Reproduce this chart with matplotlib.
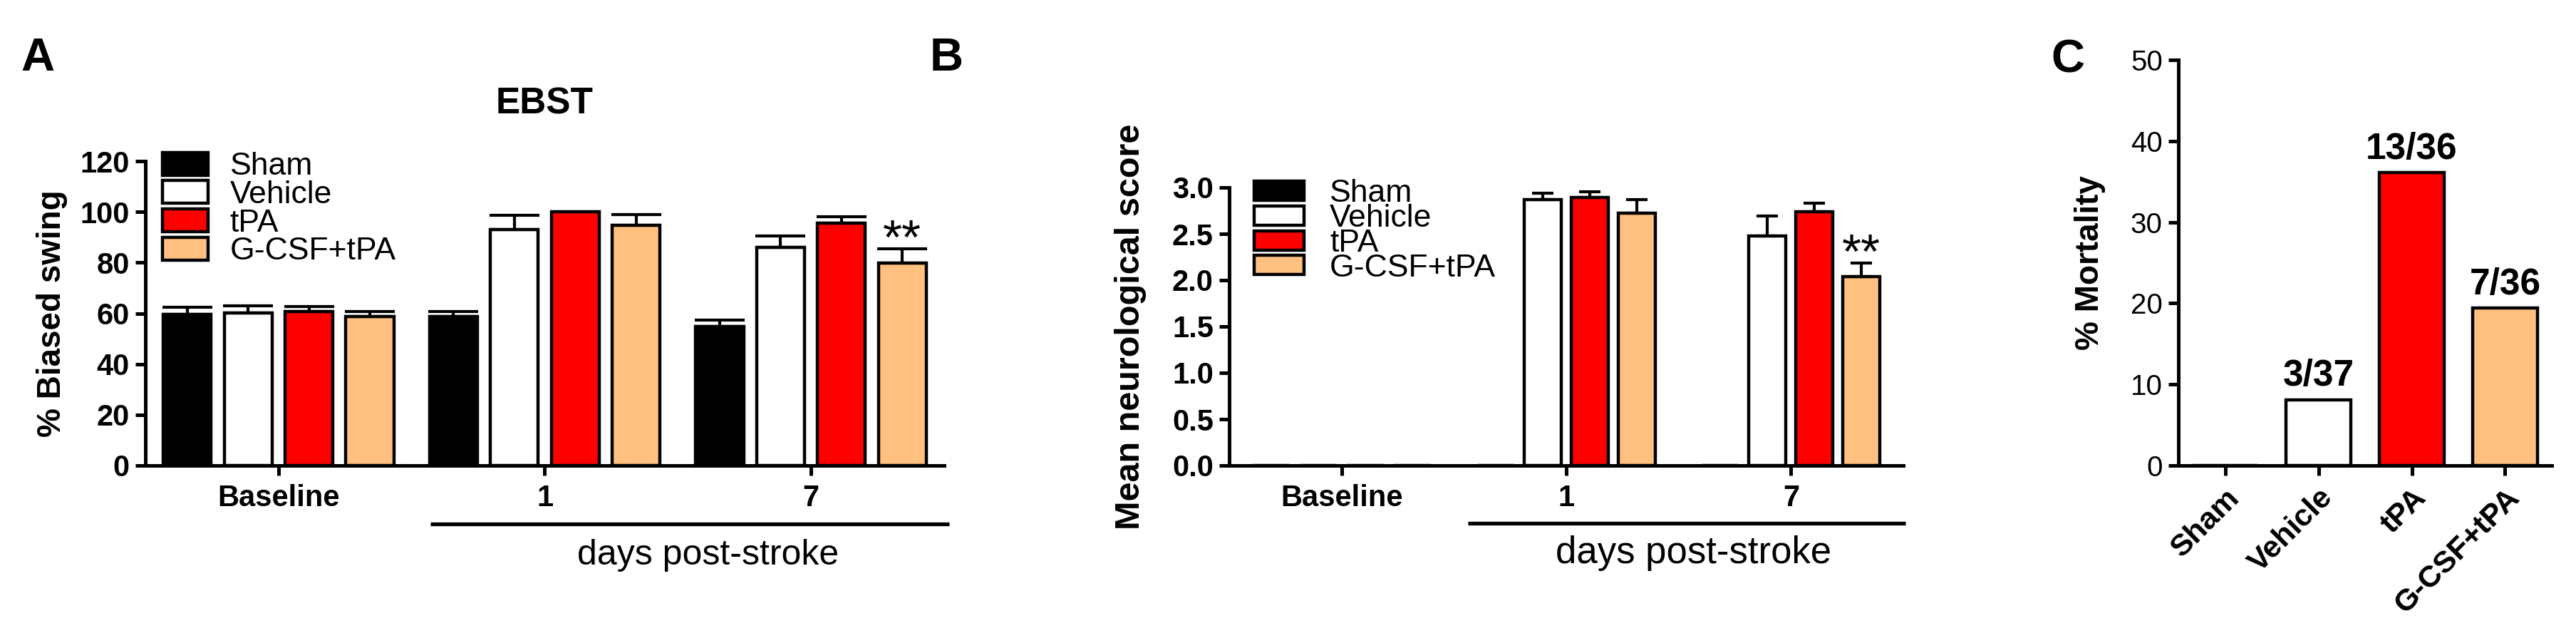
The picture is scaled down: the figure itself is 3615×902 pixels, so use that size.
import matplotlib.pyplot as plt
import numpy as np
from matplotlib.transforms import blended_transform_factory

plt.rcParams['font.family'] = ['Liberation Sans', 'DejaVu Sans']

# --- data ---
groups = ['Sham', 'Vehicle', 'tPA', 'G-CSF+tPA']
colors = ['#000000', '#FFFFFF', '#FF0000', '#FFC080']
timepoints = ['Baseline', '1', '7']

# A: EBST, % biased swing (mean and upper SEM)
ebst_sham = [59.7, 58.7, 54.8]
ebst_sham_err = [2.7, 2.1, 2.5]
ebst_vehicle = [60.2, 93.1, 86.0]
ebst_vehicle_err = [2.7, 5.6, 4.6]
ebst_tpa = [60.8, 100.0, 95.5]
ebst_tpa_err = [1.9, 0.0, 2.7]
ebst_gcsf = [58.7, 94.7, 79.8]
ebst_gcsf_err = [2.1, 4.3, 5.7]

# B: mean neurological score
neuro_sham = [0.0, 0.0, 0.0]
neuro_sham_err = [0.0, 0.0, 0.0]
neuro_vehicle = [0.0, 2.87, 2.48]
neuro_vehicle_err = [0.0, 0.07, 0.21]
neuro_tpa = [0.0, 2.89, 2.74]
neuro_tpa_err = [0.0, 0.066, 0.088]
neuro_gcsf = [0.0, 2.72, 2.04]
neuro_gcsf_err = [0.0, 0.146, 0.146]

# C: % mortality
mortality = [0.0, 8.1, 36.1, 19.4]
mortality_labels = ['', '3/37', '13/36', '7/36']

# significance mark: G-CSF+tPA at day 7
sig_group = 3
sig_time = 2
sig_text = '**'

W, H = 3616, 902
fig = plt.figure(figsize=(W / 100, H / 100), dpi=100)


def style_axes(ax):
    for s in ['top', 'right']:
        ax.spines[s].set_visible(False)
    for s in ['left', 'bottom']:
        ax.spines[s].set_linewidth(3.6)
    ax.tick_params(width=3.6, length=10)


def grouped_panel(ax, series, errs, pitch, width, capsize):
    x = np.arange(len(timepoints))
    for i, (vals, err) in enumerate(zip(series, errs)):
        vals = np.array(vals)
        err = np.array(err)
        xi = x + (i - 1.5) * pitch
        ax.bar(xi, vals, width, color=colors[i], edgecolor='black',
               linewidth=3.2, label=groups[i], zorder=2)
        m = err > 0
        ax.errorbar(xi[m], vals[m], yerr=[np.zeros(m.sum()), err[m]], fmt='none',
                    ecolor='black', elinewidth=3, capsize=capsize, capthick=3, zorder=3)
    ax.set_xlim(-0.5, 2.5)
    ax.set_xticks(x)
    ax.set_xticklabels(timepoints, fontsize=30, fontweight='bold')
    style_axes(ax)
    ax.tick_params(axis='x', pad=9)
    ax.tick_params(axis='y', labelsize=30, pad=6)
    return x


# ---------- Panel A ----------
axA = fig.add_axes([204 / W, 249 / H, 1121 / W, 427 / H])
pitchA = 0.2285
xA = grouped_panel(axA, [ebst_sham, ebst_vehicle, ebst_tpa, ebst_gcsf],
                   [ebst_sham_err, ebst_vehicle_err, ebst_tpa_err, ebst_gcsf_err],
                   pitchA, 0.18, 25)
axA.set_ylim(0, 120)
axA.set_yticks(np.arange(0, 121, 20))
for lab in axA.get_yticklabels():
    lab.set_fontweight('bold')
axA.set_ylabel('% Biased swing', fontsize=33, fontweight='bold')
axA.yaxis.set_label_coords(-0.097, 0.5)
axA.set_title('EBST', fontsize=37, fontweight='bold', pad=48)
sig_y = [ebst_sham, ebst_vehicle, ebst_tpa, ebst_gcsf][sig_group][sig_time] + \
    [ebst_sham_err, ebst_vehicle_err, ebst_tpa_err, ebst_gcsf_err][sig_group][sig_time]
axA.annotate(sig_text, (xA[sig_time] + (sig_group - 1.5) * pitchA, sig_y),
             xytext=(0, -15), textcoords='offset points', ha='center', va='bottom',
             fontsize=50)
tA = blended_transform_factory(axA.transData, axA.transAxes)
axA.plot([0.57, 2.52], [-0.192, -0.192], transform=tA, color='black', lw=3.8,
         clip_on=False, solid_capstyle='butt')
axA.text(1.613, -0.295, 'days post-stroke', transform=tA, ha='center', va='center',
         fontsize=36)
axA.legend(loc='upper left', bbox_to_anchor=(0.021, 1.03), frameon=False, fontsize=32,
           handlelength=1.46, handleheight=0.74, labelspacing=-0.03, handletextpad=0.68,
           borderpad=0, borderaxespad=0)

# ---------- Panel B ----------
axB = fig.add_axes([1725 / W, 249 / H, 946 / W, 390 / H])
pitchB = 0.209
xB = grouped_panel(axB, [neuro_sham, neuro_vehicle, neuro_tpa, neuro_gcsf],
                   [neuro_sham_err, neuro_vehicle_err, neuro_tpa_err, neuro_gcsf_err],
                   pitchB, 0.165, 11)
axB.set_ylim(0, 3.0)
axB.set_yticks(np.arange(0, 3.01, 0.5))
axB.set_yticklabels(['%.1f' % v for v in np.arange(0, 3.01, 0.5)], fontsize=30,
                    fontweight='bold')
axB.set_ylabel('Mean neurological score', fontsize=35, fontweight='bold')
axB.yaxis.set_label_coords(-0.1226, 0.5)
sig_yB = [neuro_sham, neuro_vehicle, neuro_tpa, neuro_gcsf][sig_group][sig_time] + \
    [neuro_sham_err, neuro_vehicle_err, neuro_tpa_err, neuro_gcsf_err][sig_group][sig_time]
axB.annotate(sig_text, (xB[sig_time] + (sig_group - 1.5) * pitchB, sig_yB),
             xytext=(0, -15), textcoords='offset points', ha='center', va='bottom',
             fontsize=50)
tB = blended_transform_factory(axB.transData, axB.transAxes)
axB.plot([0.563, 2.51], [-0.208, -0.208], transform=tB, color='black', lw=3.8,
         clip_on=False, solid_capstyle='butt')
axB.text(1.566, -0.315, 'days post-stroke', transform=tB, ha='center', va='center',
         fontsize=38)
axB.legend(loc='upper left', bbox_to_anchor=(0.037, 1.03), frameon=False, fontsize=32,
           handlelength=1.58, handleheight=0.56, labelspacing=-0.14, handletextpad=0.81,
           borderpad=0, borderaxespad=0)

# ---------- Panel C ----------
axC = fig.add_axes([3057 / W, 249 / H, 524 / W, 569 / H])
xC = np.arange(len(groups))
barsC = axC.bar(xC, mortality, 0.69, color=colors, edgecolor='black', linewidth=3.2,
                zorder=2)
axC.bar_label(barsC, labels=mortality_labels, padding=6, fontsize=37, fontweight='bold')
axC.set_xlim(-0.5, 3.5)
axC.set_ylim(0, 50)
axC.set_yticks(np.arange(0, 51, 10))
style_axes(axC)
axC.tick_params(axis='y', labelsize=29, pad=6)
axC.set_xticks(xC)
axC.set_xticklabels(groups, rotation=45, ha='right', rotation_mode='anchor',
                    fontsize=31, fontweight='bold')
axC.tick_params(axis='x', pad=8)
axC.set_ylabel('% Mortality', fontsize=33, fontweight='bold')
axC.yaxis.set_label_coords(-0.195, 0.5)

# panel letters
fig.text(29 / W, 1 - 52 / H, 'A', fontsize=47, fontweight='bold', ha='left', va='top')
fig.text(1305 / W, 1 - 52 / H, 'B', fontsize=47, fontweight='bold', ha='left', va='top')
fig.text(2878 / W, 1 - 54 / H, 'C', fontsize=47, fontweight='bold', ha='left', va='top')

fig.savefig('out.png', dpi=100)
